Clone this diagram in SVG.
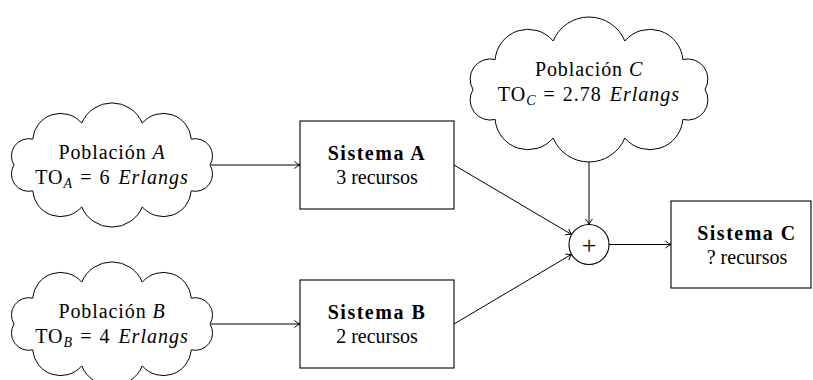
<svg xmlns="http://www.w3.org/2000/svg" width="813" height="380" viewBox="0 0 813 380">
<style>
.cloud{fill:#fff;stroke:#000;stroke-width:1}
.box{fill:#fff;stroke:#000;stroke-width:1.1}
.t{font-family:"Liberation Serif","Times New Roman",serif;font-size:20px;fill:#000;text-anchor:middle}
.b{font-weight:bold;letter-spacing:1.5px}
.p{letter-spacing:0.9px}
.m{letter-spacing:1px}
.i{font-style:italic}
.s{font-size:14px;font-style:italic}
.c{fill:none;stroke:#000;stroke-width:1}
</style>
<defs>
<marker id="arr" markerWidth="10" markerHeight="10" refX="8" refY="5" orient="auto" markerUnits="userSpaceOnUse">
<path d="M2.5,1.5 Q5.5,4.2 8,5 Q5.5,5.8 2.5,8.5" fill="none" stroke="#000" stroke-width="1"/>
</marker>
</defs>
<rect width="813" height="380" fill="#fff"/>
<g id="connectors">
<line class="c" x1="211" y1="165" x2="300" y2="165" marker-end="url(#arr)"/>
<line class="c" x1="211" y1="324" x2="300" y2="324" marker-end="url(#arr)"/>
<line class="c" x1="454" y1="165" x2="571.8" y2="234.6" marker-end="url(#arr)"/>
<line class="c" x1="454" y1="324" x2="571.8" y2="254.2" marker-end="url(#arr)"/>
<line class="c" x1="589" y1="162" x2="589" y2="224.5" marker-end="url(#arr)"/>
<line class="c" x1="609" y1="244.5" x2="671" y2="244.5" marker-end="url(#arr)"/>
</g>
<g id="popA">
<path class="cloud" d="M210,165 A17.28,17.28 0 0 0 191.28,139.14 A27.89,27.89 0 0 0 142.28,123.15 A32.77,32.77 0 0 0 81.72,123.15 A27.89,27.89 0 0 0 32.72,139.14 A17.28,17.28 0 0 0 14,165 A17.28,17.28 0 0 0 32.72,190.86 A27.89,27.89 0 0 0 81.72,206.85 A32.77,32.77 0 0 0 142.28,206.85 A27.89,27.89 0 0 0 191.28,190.86 A17.28,17.28 0 0 0 210,165 Z"/>
<text class="t p" x="112" y="159">Población <tspan class="i">A</tspan></text>
<text class="t m" x="112" y="184">TO<tspan class="s" dy="4">A</tspan><tspan dy="-4" dx="7">=</tspan><tspan dx="7">6</tspan><tspan class="i" dx="8">Erlangs</tspan></text>
</g>
<g id="popB">
<path class="cloud" d="M210,324 A17.28,17.28 0 0 0 191.28,298.14 A27.89,27.89 0 0 0 142.28,282.15 A32.77,32.77 0 0 0 81.72,282.15 A27.89,27.89 0 0 0 32.72,298.14 A17.28,17.28 0 0 0 14,324 A17.28,17.28 0 0 0 32.72,349.86 A27.89,27.89 0 0 0 81.72,365.85 A32.77,32.77 0 0 0 142.28,365.85 A27.89,27.89 0 0 0 191.28,349.86 A17.28,17.28 0 0 0 210,324 Z"/>
<text class="t p" x="112" y="318">Población <tspan class="i">B</tspan></text>
<text class="t m" x="112" y="343">TO<tspan class="s" dy="4">B</tspan><tspan dy="-4" dx="7">=</tspan><tspan dx="7">4</tspan><tspan class="i" dx="8">Erlangs</tspan></text>
</g>
<g id="popC">
<path class="cloud" d="M705,89.5 A20.18,20.18 0 0 0 682.84,59.52 A32.95,32.95 0 0 0 624.84,40.99 A38.79,38.79 0 0 0 553.16,40.99 A32.95,32.95 0 0 0 495.16,59.52 A20.18,20.18 0 0 0 473,89.5 A20.18,20.18 0 0 0 495.16,119.48 A32.95,32.95 0 0 0 553.16,138.01 A38.79,38.79 0 0 0 624.84,138.01 A32.95,32.95 0 0 0 682.84,119.48 A20.18,20.18 0 0 0 705,89.5 Z"/>
<text class="t p" x="589" y="76">Población <tspan class="i">C</tspan></text>
<text class="t m" x="589" y="101">TO<tspan class="s" dy="4">C</tspan><tspan dy="-4" dx="7">=</tspan><tspan dx="7">2.78</tspan><tspan class="i" dx="8">Erlangs</tspan></text>
</g>
<g id="sisA">
<rect class="box" x="300" y="121" width="154" height="88"/>
<text class="t b" x="377" y="160">Sistema A</text>
<text class="t" x="377" y="184">3 recursos</text>
</g>
<g id="sisB">
<rect class="box" x="300" y="280" width="154" height="88"/>
<text class="t b" x="377" y="319">Sistema B</text>
<text class="t" x="377" y="343">2 recursos</text>
</g>
<g id="sum">
<circle class="box" cx="589" cy="244.5" r="20"/>
<text class="t" x="589" y="253.5" style="font-size:26px">+</text>
</g>
<g id="sisC">
<rect class="box" x="671" y="201" width="140" height="87"/>
<text class="t b" x="747" y="240">Sistema C</text>
<text class="t" x="747" y="264">? recursos</text>
</g>
</svg>
